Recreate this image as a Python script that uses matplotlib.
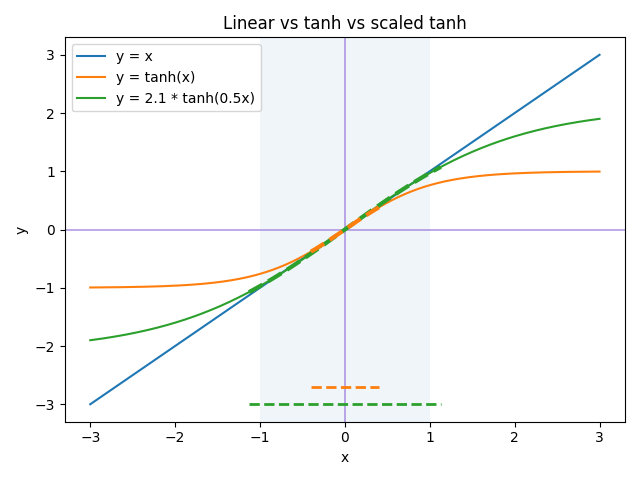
import numpy as np
import matplotlib
matplotlib.use('Agg')
import matplotlib.pyplot as plt

x_min, x_max = -3, 3
n_points = 400
scale_a, scale_b = 2.1, 0.5
# ranges where each curve stays close to y = x
tanh_lim = 0.4
scaled_lim = 1.13
tanh_bar_y = -2.7
scaled_bar_y = -3.0

x = np.linspace(x_min, x_max, n_points)

fig, ax = plt.subplots(figsize=(6.4, 4.8), dpi=100)
ax.axvspan(-1, 1, color='C0', alpha=0.07, lw=0)
ax.axhline(0, color='mediumpurple', alpha=0.7, lw=1.2)
ax.axvline(0, color='mediumpurple', alpha=0.7, lw=1.2)

ax.plot(x, x, label='y = x')
ax.plot(x, np.tanh(x), label='y = tanh(x)')
ax.plot(x, scale_a * np.tanh(scale_b * x), label='y = 2.1 * tanh(0.5x)')

xs = np.linspace(-scaled_lim, scaled_lim, 100)
ax.plot(xs, scale_a * np.tanh(scale_b * xs), '--', color='C2', lw=3)
xt = np.linspace(-tanh_lim, tanh_lim, 50)
ax.plot(xt, np.tanh(xt), '--', color='C1', lw=3)

ax.plot([-tanh_lim, tanh_lim], [tanh_bar_y, tanh_bar_y], '--', color='C1', lw=2)
ax.plot([-scaled_lim, scaled_lim], [scaled_bar_y, scaled_bar_y], '--', color='C2', lw=2)

ax.set_title('Linear vs tanh vs scaled tanh')
ax.set_xlabel('x')
ax.set_ylabel('y')
ax.legend(loc='upper left')
fig.tight_layout()
fig.savefig('out.png')
